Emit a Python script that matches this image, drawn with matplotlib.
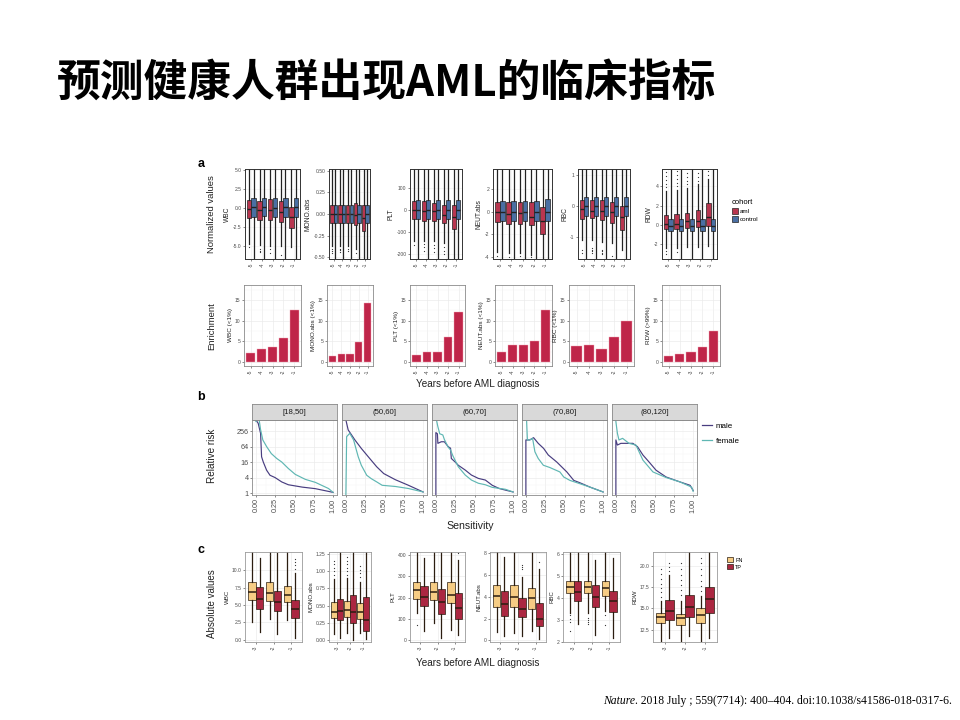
import numpy as np
import matplotlib
matplotlib.use("Agg")
import matplotlib.pyplot as plt
from matplotlib.patches import Patch
from matplotlib.lines import Line2D

plt.rcParams['font.family'] = ['Liberation Sans', 'DejaVu Sans']

# ------------------------------------------------------------------ data
title = "预测健康人群出现AML的临床指标"
citation_journal = "Nature"
citation_rest = ". 2018 July ; 559(7714): 400\u2013404. doi:10.1038/s41586-018-0317-6."

years_a = ["-5", "-4", "-3", "-2", "-1"]
years_c = ["-3", "-2", "-1"]
vars_a = ["WBC", "MONO.abs", "PLT", "NEUT.abs", "RBC", "RDW"]
cohorts = ["aml", "control"]
groups_c = ["FN", "TP"]
sexes = ["male", "female"]
age_groups = ["[18,50]", "(50,60]", "(60,70]", "(70,80]", "(80,120]"]

# panel a, normalized values: rows = [whislo, q1, median, q3, whishi] per year
wbc_aml = [[-4.8, -1.33, -0.13, 1.07, 5.6], [-4.9, -1.6, -0.27, 0.98, 5.6], [-5.0, -1.6, -0.22, 1.2, 5.6],
           [-5.0, -1.8, -0.5, 0.9, 5.6], [-5.2, -2.7, -1.25, 0.1, 5.6]]
wbc_ctrl = [[-6.9, -1.15, 0.09, 1.33, 5.6], [-6.9, -1.1, 0.1, 1.35, 5.6], [-6.9, -1.15, 0.05, 1.3, 5.6],
            [-6.9, -1.15, 0.08, 1.3, 5.6], [-6.9, -1.15, 0.1, 1.35, 5.6]]
wbc_aml_fl = [[-5.15], [-5.5, -5.7, -5.9], [-5.5, -6.0], [-6.3], []]
mono_aml = [[-0.37, -0.10, 0.0, 0.10, 0.55], [-0.37, -0.10, 0.0, 0.10, 0.55], [-0.37, -0.10, 0.0, 0.10, 0.55],
            [-0.40, -0.13, -0.01, 0.125, 0.55], [-0.55, -0.20, -0.05, 0.10, 0.55]]
mono_ctrl = [[-0.55, -0.10, 0.0, 0.10, 0.55]] * 5
mono_aml_fl = [[-0.41, -0.43, -0.45], [-0.40, -0.42, -0.44], [-0.41, -0.43], [-0.45], []]
plt_aml = [[-140, -42, 2, 44, 200], [-140, -48, -2, 40, 200], [-140, -48, -5, 35, 200],
           [-150, -60, -20, 25, 200], [-230, -85, -30, 25, 200]]
plt_ctrl = [[-230, -40, 3, 45, 200]] * 5
plt_aml_fl = [[-160], [-155, -170, -185], [-160, -175, -190], [-170, -185, -200], []]
neut_aml = [[-3.6, -0.9, -0.05, 0.9, 4], [-3.7, -1.1, -0.2, 0.85, 4], [-3.7, -1.1, -0.15, 0.9, 4],
            [-3.8, -1.2, -0.5, 0.85, 4], [-4.3, -2.0, -0.8, 0.4, 4]]
neut_ctrl = [[-4.3, -0.8, 0.0, 1.0, 4], [-4.3, -0.8, 0.0, 1.0, 4], [-4.3, -0.8, 0.0, 1.0, 4],
             [-4.3, -0.8, 0.0, 1.0, 4], [-4.3, -0.8, 0.0, 1.1, 4]]
neut_aml_fl = [[-3.9], [-4.0], [-3.95], [-4.05], []]
rbc_aml = [[-1.1, -0.4, -0.1, 0.2, 1.3], [-1.1, -0.38, -0.15, 0.2, 1.3], [-1.15, -0.45, -0.15, 0.2, 1.3],
           [-1.2, -0.55, -0.2, 0.15, 1.3], [-1.4, -0.75, -0.35, 0.0, 1.3]]
rbc_ctrl = [[-1.8, -0.3, 0.0, 0.3, 1.3]] * 5
rbc_aml_fl = [[-1.4, -1.5], [-1.35, -1.4, -1.45, -1.5], [-1.4, -1.45, -1.5, -1.55], [-1.6], []]
rdw_aml = [[-2.4, -0.4, 0.1, 1.0, 3.5], [-2.4, -0.4, 0.1, 1.1, 3.6], [-2.3, -0.3, 0.4, 1.3, 3.8],
           [-2.3, -0.2, 0.4, 1.6, 4.2], [-2.2, -0.1, 0.8, 2.3, 4.8]]
rdw_ctrl = [[-3.6, -0.6, -0.05, 0.6, 6]] * 5
rdw_aml_fl = [[-2.7, -3.0, 3.9, 4.3, 4.7, 5.1, 5.5], [-2.8, 4.0, 4.4, 4.8, 5.2, 5.6],
              [4.2, 4.6, 5.0, 5.4], [4.6, 5.0, 5.4], [5.2, 5.6]]

# panel a, enrichment bars
wbc_enr = [2.3, 3.1, 3.7, 5.8, 12.7]
mono_enr = [1.4, 2.0, 2.0, 4.9, 14.3]
plt_enr = [1.8, 2.5, 2.4, 6.0, 12.0]
neut_enr = [2.5, 4.1, 4.1, 5.2, 12.5]
rbc_enr = [3.8, 4.1, 3.3, 6.0, 10.0]
rdw_enr = [1.6, 2.0, 2.4, 3.7, 7.5]
enr_labels = ["WBC (<1%)", "MONO.abs (<1%)", "PLT (<1%)", "NEUT.abs (<1%)", "RBC (<1%)", "RDW (>99%)"]

# panel b, relative risk vs sensitivity (male / female per age group)
b_male_x = [[0.0, 0.03, 0.061, 0.074, 0.096, 0.139, 0.183, 0.248, 0.335, 0.42, 0.6, 0.77, 0.94, 1.0],
            [0.0, 0.03, 0.074, 0.117, 0.2, 0.29, 0.4, 0.49, 0.64, 0.81, 1.0],
            [0.0, 0.0, 0.02, 0.026, 0.07, 0.11, 0.16, 0.19, 0.2, 0.25, 0.29, 0.38, 0.46, 0.55, 0.64, 0.73, 0.82, 0.9, 1.0],
            [0.0, 0.0, 0.05, 0.1, 0.16, 0.23, 0.29, 0.40, 0.53, 0.62, 0.70, 0.83, 1.0],
            [0.0, 0.0, 0.02, 0.065, 0.13, 0.22, 0.28, 0.35, 0.43, 0.52, 0.65, 0.83, 0.96, 1.0]]
b_male_y = [[694, 512, 208, 25.6, 16, 7.7, 4.9, 4.0, 2.7, 2.1, 1.7, 1.48, 1.16, 1.06],
            [694, 282, 180, 115, 54, 25.6, 10.4, 5.7, 3.3, 2.0, 1.1],
            [0.8, 222, 200, 85, 98, 98, 63, 55, 22, 16, 12, 7.8, 5.0, 3.7, 3.2, 2.0, 1.5, 1.3, 1.1],
            [0.8, 115, 115, 141, 85, 54, 30, 16, 6.6, 3.1, 2.5, 1.7, 1.1],
            [0.8, 115, 73, 85, 85, 85, 63, 30, 16, 7.7, 4.2, 2.7, 2.0, 1.27]]
b_female_x = [[0.0, 0.04, 0.06, 0.09, 0.14, 0.2, 0.27, 0.335, 0.42, 0.51, 0.64, 0.77, 0.94, 1.0],
              [0.0, 0.01, 0.05, 0.1, 0.16, 0.2, 0.27, 0.33, 0.4, 0.47, 0.64, 0.81, 1.0],
              [0.01, 0.026, 0.05, 0.09, 0.11, 0.16, 0.19, 0.22, 0.29, 0.38, 0.46, 0.55, 0.64, 0.73, 0.9, 1.0],
              [0.01, 0.02, 0.05, 0.087, 0.117, 0.16, 0.226, 0.31, 0.44, 0.49, 0.57, 0.70, 0.83, 1.0],
              [0.0, 0.02, 0.04, 0.087, 0.17, 0.26, 0.35, 0.48, 0.65, 0.83, 0.98, 1.0]]
b_female_y = [[600, 800, 300, 115, 63, 34, 22, 16, 9.0, 5.3, 3.4, 2.6, 1.5, 1.06],
              [0.8, 154, 208, 115, 25.6, 12, 4.9, 3.6, 2.7, 2.0, 1.8, 1.5, 1.1],
              [640, 377, 200, 180, 120, 60, 47, 28, 10.5, 5.0, 3.2, 2.4, 2.1, 1.66, 1.4, 1.1],
              [596, 115, 115, 133, 40, 22, 12, 9.8, 6.6, 4.2, 3.1, 2.3, 1.7, 1.1],
              [596, 208, 115, 133, 85, 73, 19, 6.6, 4.0, 2.7, 1.7, 1.16]]

# panel c, absolute values: rows = [whislo, q1, median, q3, whishi] per year
wbc_fn = [[2.6, 5.7, 6.8, 8.3, 13], [3.0, 5.6, 6.7, 8.3, 13], [2.8, 5.4, 6.5, 7.7, 13]]
wbc_tp = [[1.2, 4.5, 5.9, 7.6, 11.7], [0.8, 4.1, 5.5, 7.0, 12.5], [0.3, 3.1, 4.4, 5.7, 9.6]]
wbc_fn_fl = [[], [12.2], []]
wbc_tp_fl = [[], [], [10.2, 10.7, 11.2, 11.6]]
mono_fn = [[0.08, 0.32, 0.41, 0.55, 0.88], [0.1, 0.33, 0.43, 0.57, 0.9], [0.1, 0.31, 0.40, 0.54, 0.85]]
mono_tp = [[0.03, 0.29, 0.42, 0.60, 1.3], [0.0, 0.24, 0.40, 0.66, 1.3], [0.01, 0.13, 0.29, 0.62, 1.3]]
mono_fn_fl = [[0.95, 1.0, 1.05, 1.1, 1.15], [0.95, 1.0, 1.05, 1.1, 1.15, 1.2], [0.92, 0.97, 1.02, 1.07]]
mono_tp_fl = [[], [], []]
plt_fn = [[128, 195, 235, 275, 420], [81, 190, 225, 275, 420], [50, 175, 215, 275, 420]]
plt_tp = [[42, 160, 205, 255, 386], [11, 125, 180, 240, 420], [27, 100, 150, 220, 378]]
plt_fn_fl = [[73], [], []]
plt_tp_fl = [[], [], [409]]
neut_fn = [[0.8, 3.1, 4.1, 5.1, 8.5], [0.7, 3.1, 4.0, 5.1, 8.5], [0.9, 2.9, 3.9, 4.8, 8.5]]
neut_tp = [[0.4, 2.2, 3.3, 4.5, 7.6], [0.4, 2.1, 2.9, 3.9, 5.8], [0.1, 1.3, 2.0, 3.4, 6.5]]
neut_fn_fl = [[], [], []]
neut_tp_fl = [[], [6.5, 6.7, 6.9], [7.2]]
rbc_fn = [[3.33, 4.2, 4.5, 4.75, 6.1], [3.33, 4.2, 4.5, 4.75, 6.1], [3.4, 4.1, 4.45, 4.75, 6.1]]
rbc_tp = [[2.8, 3.85, 4.25, 4.75, 6.1], [2.3, 3.6, 4.05, 4.6, 5.7], [2.2, 3.35, 3.85, 4.3, 5.8]]
rbc_fn_fl = [[3.2, 3.05, 2.9, 2.5], [3.1, 3.0, 2.9, 2.8], [3.2, 2.75]]
rbc_tp_fl = [[], [], []]
rdw_fn = [[11.0, 13.25, 14.0, 14.45, 15.9], [11.0, 13.1, 13.9, 14.3, 15.9], [11.0, 13.3, 14.25, 15.0, 16.5]]
rdw_tp = [[11.5, 13.7, 14.7, 16.0, 18.9], [11.8, 14.05, 15.2, 16.6, 21.7], [11.5, 14.45, 16.1, 17.5, 21.7]]
rdw_fn_fl = [[16.4, 16.9, 17.4, 17.9, 18.5, 19.1, 19.7], [16.6, 17.2, 17.8, 18.4, 19.0, 19.6, 20.3],
             [17.0, 17.6, 18.2, 18.9, 19.6, 20.3, 21.0]]
rdw_tp_fl = [[19.4, 19.9, 20.4], [], []]

# ------------------------------------------------------------------ styling helpers
W, H = 960, 720
fig = plt.figure(figsize=(9.6, 7.2), dpi=100)


def rect(x0, y0, x1, y1):
    return [x0 / W, 1 - y1 / H, (x1 - x0) / W, (y1 - y0) / H]


TXT = '#4d4d4d'
GRID = '#ebebeb'
C_AML = '#b8364f'
C_CTRL = '#4a6fa3'
C_BAR = '#bf2549'
C_FN = '#f6cc84'
C_TP = '#ab2741'
C_MALE = '#483d80'
C_FEMALE = '#5fb7b3'


def style(ax, edge='#333333', lw=0.7, ts=3.6):
    for s in ax.spines.values():
        s.set_color(edge)
        s.set_linewidth(lw)
    ax.tick_params(length=1.5, width=0.4, color='#333333', labelsize=ts, labelcolor=TXT, pad=1)
    ax.set_axisbelow(True)


def boxes(ax, rows, fls, color, offset, width, edge='#222222', med_lw=1.0):
    stats = [dict(whislo=r[0], q1=r[1], med=r[2], q3=r[3], whishi=r[4], fliers=f) for r, f in zip(rows, fls)]
    ax.bxp(stats, positions=np.arange(len(rows)) + offset, widths=width, patch_artist=True,
           showcaps=False, manage_ticks=False,
           boxprops=dict(facecolor=color, edgecolor=edge, linewidth=0.5),
           medianprops=dict(color=edge, linewidth=med_lw),
           whiskerprops=dict(color=edge, linewidth=0.9),
           flierprops=dict(marker='o', markersize=0.9, markerfacecolor='#333333',
                           markeredgecolor='none', linestyle='none'))


# ------------------------------------------------------------------ title & citation
fig.text(57 / W, 1 - 83 / H, title, fontsize=31.5, fontweight='black',
         family=['Noto Sans CJK SC', 'DejaVu Sans'], ha='left', va='center', color='black')
t1 = fig.text(603 / W, 1 - 701 / H, citation_journal, fontsize=8.4, style='italic',
              family=['Liberation Serif', 'DejaVu Serif'], ha='left', va='center')
fig.canvas.draw()
bb = t1.get_window_extent()
fig.text(bb.x1 / W, 1 - 701 / H, citation_rest, fontsize=8.4,
         family=['Liberation Serif', 'DejaVu Serif'], ha='left', va='center')

# ------------------------------------------------------------------ panel a, boxplots
a_top_pos = [(245, 169, 300, 259), (329, 169, 370, 259), (410, 169, 462, 259),
             (493, 169, 552, 259), (578, 169, 630, 259), (662, 169, 717, 259)]
a_data = [(wbc_aml, wbc_ctrl, wbc_aml_fl), (mono_aml, mono_ctrl, mono_aml_fl), (plt_aml, plt_ctrl, plt_aml_fl),
          (neut_aml, neut_ctrl, neut_aml_fl), (rbc_aml, rbc_ctrl, rbc_aml_fl), (rdw_aml, rdw_ctrl, rdw_aml_fl)]
a_ylims = [(-6.8, 5.2), (-0.52, 0.52), (-223, 188), (-4.2, 3.8), (-1.7, 1.2), (-3.5, 5.8)]
a_yticks = [[-5, -2.5, 0, 2.5, 5], [-0.5, -0.25, 0, 0.25, 0.5], [-200, -100, 0, 100],
            [-4, -2, 0, 2], [-1, 0, 1], [-2, 0, 2, 4]]
a_yticklabels = [["-5.0", "-2.5", "0.0", "2.5", "5.0"], ["-0.50", "-0.25", "0.00", "0.25", "0.50"],
                 ["-200", "-100", "0", "100"], ["-4", "-2", "0", "2"], ["-1", "0", "1"], ["-2", "0", "2", "4"]]
for pos, (aml, ctrl, fl), yl, yt, ytl, name in zip(a_top_pos, a_data, a_ylims, a_yticks, a_yticklabels, vars_a):
    ax = fig.add_axes(rect(*pos))
    boxes(ax, aml, fl, C_AML, -0.22, 0.42)
    boxes(ax, ctrl, [[] for _ in ctrl], C_CTRL, 0.22, 0.42)
    ax.set_xlim(-0.6, 4.6)
    ax.set_ylim(*yl)
    ax.set_yticks(yt)
    ax.set_yticklabels(ytl)
    ax.set_xticks(range(5))
    ax.set_xticklabels(years_a, rotation=90)
    ax.grid(True, color='#f0f0f0', lw=0.4)
    style(ax)
    ax.set_ylabel(name, fontsize=4.8, labelpad=1.5, color='#222222')
    if name == "RDW":
        leg = ax.legend(handles=[Patch(facecolor=C_AML, edgecolor='#222222', lw=0.5, label=cohorts[0]),
                                 Patch(facecolor=C_CTRL, edgecolor='#222222', lw=0.5, label=cohorts[1])],
                        title="cohort", fontsize=4.5, title_fontsize=5.5, frameon=False,
                        loc='upper left', bbox_to_anchor=(729 / W, 1 - 197 / H),
                        bbox_transform=fig.transFigure, handlelength=1.0, handleheight=1.0,
                        handletextpad=0.4, labelspacing=0.3, borderaxespad=0)
        leg._legend_box.align = "left"

fig.text(201 / W, 1 - 164 / H, "a", fontsize=9, fontweight='bold', ha='center', va='center')
fig.text(212 / W, 1 - 214 / H, "Normalized values", fontsize=6.8, rotation=90, ha='center', va='center',
         color='#222222')

# ------------------------------------------------------------------ panel a, enrichment bars
a_bot_pos = [(244, 285, 301, 366), (327, 285, 373, 366), (410, 285, 465, 366),
             (495, 285, 552, 366), (569, 285, 634, 366), (662, 285, 720, 366)]
enr_data = [wbc_enr, mono_enr, plt_enr, neut_enr, rbc_enr, rdw_enr]
for pos, vals, lab in zip(a_bot_pos, enr_data, enr_labels):
    ax = fig.add_axes(rect(*pos))
    ax.bar(range(len(vals)), vals, width=0.82, color=C_BAR, edgecolor='#f4a6b4', linewidth=0.3)
    ax.set_xlim(-0.6, 4.6)
    ax.set_ylim(-0.9, 18.6)
    ax.set_yticks([0, 5, 10, 15])
    ax.set_yticks([2.5, 7.5, 12.5, 17.5], minor=True)
    ax.set_xticks(range(5))
    ax.set_xticklabels(years_a, rotation=90)
    ax.grid(True, which='major', color=GRID, lw=0.5)
    ax.grid(True, which='minor', axis='y', color='#f4f4f4', lw=0.35)
    ax.tick_params(which='minor', length=0)
    style(ax, edge='#8a8a8a', lw=0.6)
    ax.set_ylabel(lab, fontsize=4.6, labelpad=1.5, color='#222222')

fig.text(212 / W, 1 - 326 / H, "Enrichment", fontsize=6.8, rotation=90, ha='center', va='center',
         color='#222222')
fig.text(478 / W, 1 - 384 / H, "Years before AML diagnosis", fontsize=7.2, ha='center', va='center',
         color='#222222')

# ------------------------------------------------------------------ panel b
b_pos = [(252, 337), (342, 427), (432, 517), (522, 607), (612, 697)]
for i, (x0, x1) in enumerate(b_pos):
    ax = fig.add_axes(rect(x0, 420, x1, 495))
    ax.plot(b_male_x[i], b_male_y[i], color=C_MALE, lw=0.85)
    ax.plot(b_female_x[i], b_female_y[i], color=C_FEMALE, lw=0.85)
    ax.set_yscale('log', base=2)
    ax.set_ylim(0.84, 685)
    ax.set_xlim(-0.05, 1.05)
    ax.set_yticks([1, 4, 16, 64, 256])
    ax.set_yticks([2, 8, 32, 128], minor=True)
    ax.set_xticks([0, 0.25, 0.5, 0.75, 1.0])
    ax.set_xticks([0.125, 0.375, 0.625, 0.875], minor=True)
    ax.set_xticklabels(["0.00", "0.25", "0.50", "0.75", "1.00"], rotation=90)
    ax.grid(True, which='major', color=GRID, lw=0.5)
    ax.grid(True, which='minor', color='#f4f4f4', lw=0.35)
    ax.tick_params(which='minor', length=0, labelleft=False)
    style(ax, edge='#8a8a8a', lw=0.6, ts=5.2)
    if i == 0:
        ax.set_yticklabels(["1", "4", "16", "64", "256"])
    else:
        ax.set_yticklabels([])
        ax.tick_params(axis='y', length=0)
    sax = fig.add_axes(rect(x0, 404, x1, 420))
    sax.set_facecolor('#d9d9d9')
    sax.set_xticks([])
    sax.set_yticks([])
    for s in sax.spines.values():
        s.set_color('#8a8a8a')
        s.set_linewidth(0.6)
    sax.text(0.5, 0.5, age_groups[i], transform=sax.transAxes, ha='center', va='center',
             fontsize=5.6, color='#1a1a1a')
    if i == 4:
        ax.legend(handles=[Line2D([], [], color=C_MALE, lw=0.9, label=sexes[0]),
                           Line2D([], [], color=C_FEMALE, lw=0.9, label=sexes[1])],
                  fontsize=5.8, frameon=False, loc='upper left', bbox_to_anchor=(699 / W, 1 - 419 / H),
                  bbox_transform=fig.transFigure, handlelength=1.2, handletextpad=0.5,
                  labelspacing=0.9, borderaxespad=0)

fig.text(201 / W, 1 - 397 / H, "b", fontsize=9, fontweight='bold', ha='center', va='center')
fig.text(212 / W, 1 - 456 / H, "Relative risk", fontsize=7.2, rotation=90, ha='center', va='center',
         color='#222222')
fig.text(470 / W, 1 - 526 / H, "Sensitivity", fontsize=7.6, ha='center', va='center', color='#222222')

# ------------------------------------------------------------------ panel c
c_pos = [(245, 552, 302, 642), (329, 552, 371, 642), (410, 552, 465, 642),
         (490, 552, 546, 642), (563, 552, 620, 642), (653, 552, 717, 642)]
c_data = [(wbc_fn, wbc_tp, wbc_fn_fl, wbc_tp_fl), (mono_fn, mono_tp, mono_fn_fl, mono_tp_fl),
          (plt_fn, plt_tp, plt_fn_fl, plt_tp_fl), (neut_fn, neut_tp, neut_fn_fl, neut_tp_fl),
          (rbc_fn, rbc_tp, rbc_fn_fl, rbc_tp_fl), (rdw_fn, rdw_tp, rdw_fn_fl, rdw_tp_fl)]
c_ylims = [(-0.3, 12.6), (-0.03, 1.28), (-8, 415), (-0.15, 8.1), (2.0, 6.07), (11.05, 21.65)]
c_yticks = [[0, 2.5, 5, 7.5, 10], [0, 0.25, 0.5, 0.75, 1.0, 1.25], [0, 100, 200, 300, 400],
            [0, 2, 4, 6, 8], [2, 3, 4, 5, 6], [12.5, 15, 17.5, 20]]
c_yticklabels = [["0.0", "2.5", "5.0", "7.5", "10.0"], ["0.00", "0.25", "0.50", "0.75", "1.00", "1.25"],
                 ["0", "100", "200", "300", "400"], ["0", "2", "4", "6", "8"], ["2", "3", "4", "5", "6"],
                 ["12.5", "15.0", "17.5", "20.0"]]
for pos, (fn, tp, fnf, tpf), yl, yt, ytl, name in zip(c_pos, c_data, c_ylims, c_yticks, c_yticklabels, vars_a):
    ax = fig.add_axes(rect(*pos))
    boxes(ax, fn, fnf, C_FN, -0.22, 0.42, edge='#2b1d10', med_lw=1.1)
    boxes(ax, tp, tpf, C_TP, 0.22, 0.42, edge='#2b1d10', med_lw=1.1)
    ax.set_xlim(-0.6, 2.6)
    ax.set_ylim(*yl)
    ax.set_yticks(yt)
    ax.set_yticklabels(ytl)
    ax.set_xticks(range(3))
    ax.set_xticklabels(years_c, rotation=90)
    ax.grid(True, color=GRID, lw=0.5)
    style(ax, edge='#9a9a9a', lw=0.6, ts=3.6)
    ax.set_ylabel(name, fontsize=4.4, labelpad=1.5, color='#222222')
    if name == "RDW":
        ax.legend(handles=[Patch(facecolor=C_FN, edgecolor='#2b1d10', lw=0.5, label=groups_c[0]),
                           Patch(facecolor=C_TP, edgecolor='#2b1d10', lw=0.5, label=groups_c[1])],
                  fontsize=4.0, frameon=False, loc='upper left', bbox_to_anchor=(725 / W, 1 - 555 / H),
                  bbox_transform=fig.transFigure, handlelength=1.0, handleheight=1.0,
                  handletextpad=0.4, labelspacing=0.3, borderaxespad=0)

fig.text(201 / W, 1 - 550 / H, "c", fontsize=9, fontweight='bold', ha='center', va='center')
fig.text(212 / W, 1 - 604 / H, "Absolute values", fontsize=7.0, rotation=90, ha='center', va='center',
         color='#222222')
fig.text(478 / W, 1 - 663 / H, "Years before AML diagnosis", fontsize=7.2, ha='center', va='center',
         color='#222222')

fig.savefig("out.png", dpi=100)
